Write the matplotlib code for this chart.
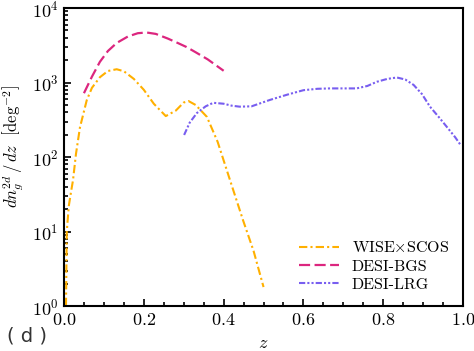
import matplotlib
matplotlib.use("Agg")
import matplotlib.pyplot as plt
from matplotlib.ticker import LogLocator, MultipleLocator, NullFormatter

# WISE x SCOS
z_wise = [0.005, 0.007, 0.012, 0.018, 0.0226, 0.03, 0.04, 0.057, 0.07, 0.09, 0.11, 0.132, 0.15, 0.175, 0.2, 0.225, 0.255, 0.28, 0.3, 0.312, 0.33, 0.358, 0.385, 0.416, 0.449, 0.475, 0.5]
n_wise = [1.0, 10, 22, 35, 49, 110, 250, 580, 850, 1180, 1430, 1510, 1420, 1120, 800, 520, 355, 420, 540, 565, 500, 347, 160, 49, 14, 5.5, 1.8]

# DESI-BGS
z_bgs = [0.05, 0.07, 0.09, 0.11, 0.132, 0.16, 0.185, 0.207, 0.23, 0.26, 0.285, 0.307, 0.33, 0.36, 0.4]
n_bgs = [720, 1200, 1900, 2650, 3400, 4150, 4600, 4700, 4500, 3900, 3400, 3000, 2550, 2050, 1440]

# DESI-LRG
z_lrg = [0.301, 0.315, 0.333, 0.355, 0.374, 0.4, 0.42, 0.44, 0.47, 0.516, 0.56, 0.6, 0.635, 0.667, 0.7, 0.733, 0.76, 0.784, 0.81, 0.834, 0.855, 0.876, 0.897, 0.917, 0.94, 0.959, 0.98, 0.995]
n_lrg = [198, 290, 390, 480, 535, 520, 490, 475, 480, 585, 690, 790, 825, 835, 835, 835, 900, 1025, 1120, 1170, 1100, 930, 700, 475, 340, 255, 185, 142]

plt.rcParams['font.family'] = 'serif'
plt.rcParams['font.serif'] = ['cmr10', 'DejaVu Serif']
plt.rcParams['mathtext.fontset'] = 'cm'
plt.rcParams['axes.formatter.use_mathtext'] = True

fig = plt.figure(figsize=(4.74, 3.51), dpi=100)
ax = fig.add_axes([0.135, 0.128, 0.842, 0.849])

ax.plot(z_wise, n_wise, color='#FFB000', lw=1.5, dashes=(4, 1.5, 1, 1.5), label=r'WISE$\times$SCOS')
ax.plot(z_bgs, n_bgs, color='#DC267F', lw=1.6, dashes=(5, 2), label='DESI-BGS')
ax.plot(z_lrg, n_lrg, color='#785EF0', lw=1.5, dashes=(3, 1, 1, 1, 1, 1), label='DESI-LRG')

ax.set_yscale('log')
ax.set_xlim(0, 1.0)
ax.set_ylim(1, 1e4)
ax.xaxis.set_major_locator(MultipleLocator(0.2))
ax.xaxis.set_minor_locator(MultipleLocator(0.05))
ax.yaxis.set_major_locator(LogLocator(base=10, numticks=10))
ax.yaxis.set_minor_locator(LogLocator(base=10, subs=range(2, 10), numticks=100))
ax.yaxis.set_minor_formatter(NullFormatter())
ax.tick_params(which='both', direction='in', top=False, right=False, labelsize=13, width=1.2, pad=4)
ax.tick_params(which='major', length=5)
ax.tick_params(which='minor', length=3)
for s in ax.spines.values():
    s.set_linewidth(1.5)

ax.set_xlabel(r'$z$', fontsize=13, labelpad=6)
ax.set_ylabel(r'$dn_g^{2d}\,/\,dz\ \ \left[\mathrm{deg}^{-2}\right]$', fontsize=12)
ax.yaxis.set_label_coords(-0.094, 0.535)

ax.legend(loc='lower right', frameon=False, fontsize=11.5, handlelength=2.5, borderaxespad=0.5, labelspacing=0.25)

fig.text(0.014, 0.028, '( d )', fontsize=14, family='DejaVu Sans', color='#333333')

fig.savefig('out.png', dpi=100)
